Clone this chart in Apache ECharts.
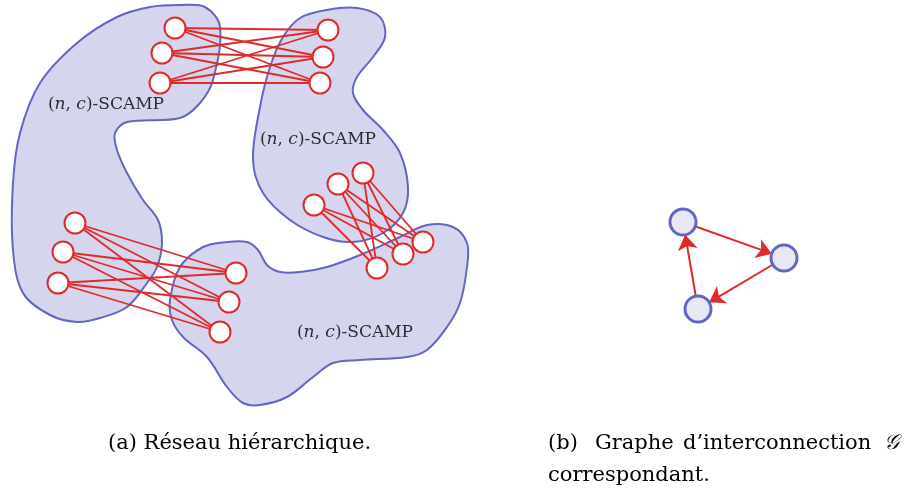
<!DOCTYPE html>
<html>
<head>
<meta charset="utf-8">
<script src="https://cdn.jsdelivr.net/npm/echarts@6/dist/echarts.min.js"></script>
<style>
html,body{margin:0;padding:0;background:#fff;}
#chart{width:912px;height:494px;}
</style>
</head>
<body>
<div id="chart"></div>
<script>
// ---- data (diagram space: x right, y down) ----
const blobA = [[180,5],[205,7],[220,27],[213,80],[200,103],[180,118],[127,122],[115,133],[117,150],[127,173],[143,200],[158,220],[162,243],[157,267],[147,283],[127,307],[100,318],[77,322],[50,315],[23,293],[13,250],[13,183],[20,133],[40,83],[77,43],[117,17],[150,7]];
const blobB = [[253,160],[260,107],[270,67],[283,37],[300,18],[327,10],[357,8],[380,17],[385,37],[373,57],[357,77],[353,93],[363,110],[383,130],[400,153],[408,187],[403,213],[383,233],[353,242],[323,237],[290,220],[263,193]];
const blobC = [[170,300],[180,267],[203,247],[227,242],[247,242],[258,250],[267,265],[280,272],[300,272],[327,267],[360,255],[400,237],[427,225],[453,227],[467,243],[467,267],[460,303],[447,327],[427,350],[407,357],[360,360],[333,363],[313,377],[287,397],[260,405],[243,403],[227,387],[207,357],[183,337],[172,320]];
const blobs = [blobA, blobB, blobC];

const clusterNodes = [
  [175,28],[162,53],[160,83],   [328,30],[323,57],[320,83],
  [314,205],[338,184],[363,173], [423,242],[403,254],[377,268],
  [75,223],[63,252],[58,283],   [236,273],[229,302],[220,332]
];
const bipartiteGroups = [
  [[0,1,2],[3,4,5]],
  [[6,7,8],[9,10,11]],
  [[12,13,14],[15,16,17]]
];
const labelPoints = [[106,105],[318,140],[355,333]];
const labelText = '({i|n}, {i|c})-SCAMP';

const triNodes = [[683,222],[784,258],[698,309]];
const triLinks = [[0,1],[1,2],[2,0]];

const captionA = '(a) Réseau hiérarchique.';
const captionB = ['(b)','Graphe','d\u2019interconnection','\uD835\uDCA2'];
const captionB2 = 'correspondant.';

// ---- build ----
const clusterLinks = [];
bipartiteGroups.forEach(function(g){
  g[0].forEach(function(s){ g[1].forEach(function(t){ clusterLinks.push({source:s, target:t}); }); });
});

const RED = '#e02a2a';
const BLUE = '#6266c4';
const serif = '"DejaVu Serif", "Liberation Serif", serif';
const capFont = '21px ' + serif;

const chart = echarts.init(document.getElementById('chart'), null, {renderer:'canvas'});
chart.setOption({
  animation:false,
  backgroundColor:'#ffffff',
  grid:{left:0,right:0,top:0,bottom:0},
  xAxis:{type:'value',min:0,max:912,show:false},
  yAxis:{type:'value',min:0,max:494,inverse:true,show:false},
  series:[
    {
      type:'custom',
      coordinateSystem:'cartesian2d',
      z:1,
      data: blobs.map(function(b){ return b[0]; }),
      renderItem:function(params, api){
        const pts = blobs[params.dataIndex].map(function(p){ return api.coord(p); });
        return {type:'polygon', shape:{points:pts, smooth:0.35},
          style:{fill:'#d5d5ee', stroke:BLUE, lineWidth:2}};
      }
    },
    {
      type:'scatter',
      z:2,
      symbolSize:0,
      data: labelPoints,
      label:{show:true, position:'inside', formatter:labelText,
        fontFamily:serif, fontSize:17, color:'#000',
        rich:{i:{fontFamily:serif, fontStyle:'italic', fontSize:17, color:'#000'}}}
    },
    {
      type:'graph',
      coordinateSystem:'cartesian2d',
      z:3,
      symbol:'circle',
      symbolSize:21,
      data: clusterNodes,
      links: clusterLinks,
      itemStyle:{color:'#ffffff', borderColor:RED, borderWidth:2},
      lineStyle:{color:RED, width:1.8, opacity:1},
      label:{show:false},
      emphasis:{disabled:true}
    },
    {
      type:'graph',
      coordinateSystem:'cartesian2d',
      z:3,
      symbol:'circle',
      symbolSize:26,
      data: triNodes,
      links: triLinks.map(function(l){ return {source:l[0], target:l[1]}; }),
      edgeSymbol:['none','arrow'],
      edgeSymbolSize:[0,15],
      itemStyle:{color:'#e8e8f5', borderColor:BLUE, borderWidth:3},
      lineStyle:{color:RED, width:2, opacity:1},
      label:{show:false},
      emphasis:{disabled:true}
    }
  ],
  graphic:[
    {type:'text', left:108, top:433, style:{text:captionA, font:capFont, fill:'#000'}},
    {type:'text', left:548, top:433, style:{text:captionB[0], font:capFont, fill:'#000'}},
    {type:'text', left:595, top:433, style:{text:captionB[1], font:capFont, fill:'#000'}},
    {type:'text', left:683, top:433, style:{text:captionB[2], font:capFont, fill:'#000'}},
    {type:'text', left:884, top:433, style:{text:captionB[3], font:'italic ' + capFont, fill:'#000'}},
    {type:'text', left:548, top:465, style:{text:captionB2, font:capFont, fill:'#000'}}
  ]
});
</script>
</body>
</html>
